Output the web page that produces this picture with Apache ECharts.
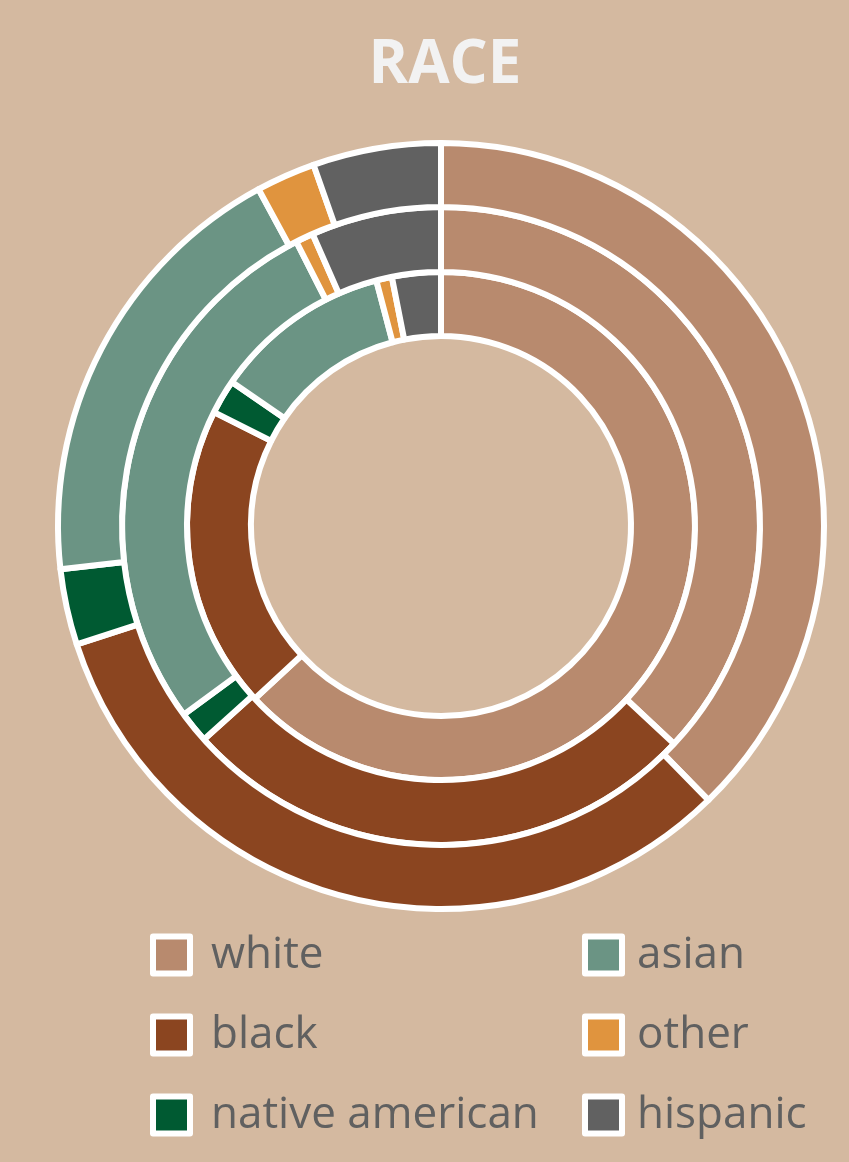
<!DOCTYPE html>
<html>
<head>
<meta charset="utf-8">
<script src="https://cdn.jsdelivr.net/npm/echarts@6/dist/echarts.min.js"></script>
<style>
html,body{margin:0;padding:0;background:#D4B9A0;}
#chart{width:849px;height:1162px;}
</style>
</head>
<body>
<div id="chart"></div>
<script>
const categories = ['white', 'black', 'native american', 'asian', 'other', 'hispanic'];
const innerValues = [63.1, 19.3, 2.2, 11.3, 1.0, 3.1];
const middleValues = [37.0, 26.4, 1.6, 27.6, 0.9, 6.6];
const outerValues = [37.7, 32.3, 3.2, 18.9, 2.5, 5.4];
const colors = ['#B88A6E', '#8B4520', '#005A32', '#6B9484', '#E0943E', '#616161'];

const toData = vals => categories.map((c, i) => ({ name: c, value: vals[i] }));

const ringBase = {
  type: 'pie',
  center: [441, 526],
  startAngle: 90,
  clockwise: true,
  avoidLabelOverlap: false,
  label: { show: false },
  labelLine: { show: false },
  emphasis: { disabled: true },
  itemStyle: { borderColor: '#ffffff', borderWidth: 6 },
  animation: false
};

const legendBase = {
  orient: 'vertical',
  icon: 'rect',
  itemWidth: 37,
  itemHeight: 37,
  itemGap: 36,
  itemStyle: { borderColor: '#ffffff', borderWidth: 6 },
  selectedMode: false
};
const legendText = pad => ({ color: '#606060', fontSize: 44, fontFamily: 'Open Sans', padding: [0, 0, 0, pad] });

const chart = echarts.init(document.getElementById('chart'));
chart.setOption({
  backgroundColor: '#D4B9A0',
  color: colors,
  title: {
    text: 'RACE',
    left: 440,
    textAlign: 'center',
    top: 31,
    textStyle: { color: '#F2F2F2', fontSize: 60, fontWeight: 'bold', fontFamily: 'Open Sans' }
  },
  legend: [
    Object.assign({}, legendBase, { left: 145, top: 928, textStyle: legendText(16), data: categories.slice(0, 3) }),
    Object.assign({}, legendBase, { left: 577, top: 928, textStyle: legendText(10), data: categories.slice(3) })
  ],
  series: [
    Object.assign({}, ringBase, { name: 'inner', radius: [190, 254], data: toData(innerValues) }),
    Object.assign({}, ringBase, { name: 'middle', radius: [254, 319], data: toData(middleValues) }),
    Object.assign({}, ringBase, { name: 'outer', radius: [319, 383], data: toData(outerValues) })
  ]
});
</script>
</body>
</html>
